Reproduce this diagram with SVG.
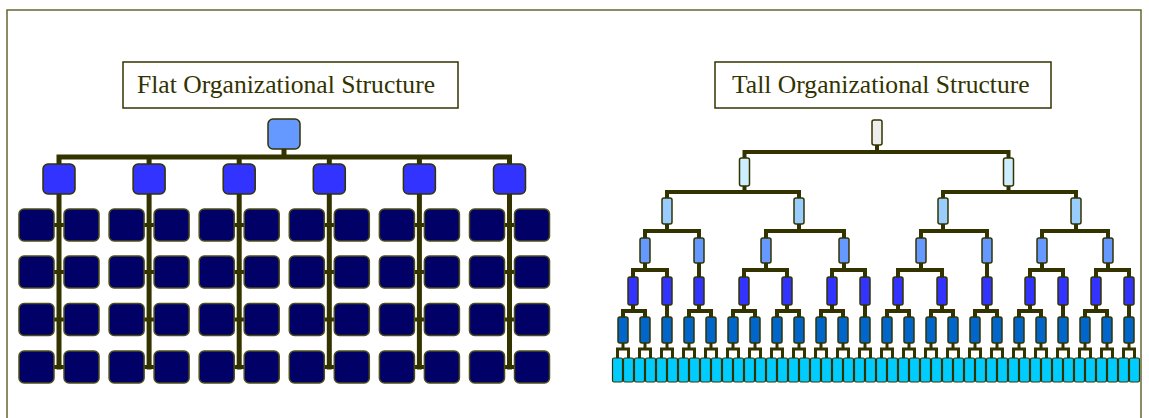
<svg xmlns="http://www.w3.org/2000/svg" width="1149" height="418" viewBox="0 0 1149 418">
  <style>
    .frame { fill: none; stroke: #666633; stroke-width: 1.5; }
    .title-box { fill: #ffffff; stroke: #333300; stroke-width: 1.5; }
    .title { font-family: "Liberation Serif", "Times New Roman", serif; font-size: 25.6px; fill: #333300; }
    .wire { fill: none; stroke: #333300; stroke-linecap: square; stroke-linejoin: miter; }
    .wire-f { stroke-width: 5; }
    .wire-f2 { stroke-width: 4; }
    .wire-t { stroke-width: 4; }
    .wire-leaf { stroke-width: 3; }
    .node { stroke: #333300; stroke-width: 1.5; }
    .f0 { fill: #6699ff; }
    .f1 { fill: #3333ff; }
    .fg { fill: #000066; stroke: #4d4d1a; }
    .t0 { fill: #eeeeee; }
    .t1 { fill: #cceeff; }
    .t2 { fill: #99ccff; }
    .t3 { fill: #6699ff; }
    .t4 { fill: #3333ff; }
    .t5 { fill: #0066cc; }
    .t6 { fill: #00ccff; stroke-width: 1.2; }
  </style>

  <!-- outer frame -->
  <rect class="frame" x="7" y="10" width="1134" height="420"/>

  <!-- titles -->
  <g id="title-flat">
    <rect class="title-box" x="123" y="62" width="335" height="46"/>
    <text class="title" x="137" y="93">Flat Organizational Structure</text>
  </g>
  <g id="title-tall">
    <rect class="title-box" x="715" y="62" width="336" height="46"/>
    <text class="title" x="732" y="93">Tall Organizational Structure</text>
  </g>

  <!-- ===== flat structure: connectors ===== -->
  <g id="flat-connectors" class="wire">
    <path class="wire-f" d="M284 149 V157 M59 164 V157 H509.5 V164 M149.1 157 V164 M239.2 157 V164 M329.3 157 V164 M419.4 157 V164"/>
    <path class="wire-f" d="M59 194 V367 M149.1 194 V367 M239.2 194 V367 M329.3 194 V367 M419.4 194 V367 M509.5 194 V367"/>
    <path class="wire-f2" d="M54 225 H64 M54 272 H64 M54 319.5 H64 M54 367 H64
      M144.1 225 H154.1 M144.1 272 H154.1 M144.1 319.5 H154.1 M144.1 367 H154.1
      M234.2 225 H244.2 M234.2 272 H244.2 M234.2 319.5 H244.2 M234.2 367 H244.2
      M324.3 225 H334.3 M324.3 272 H334.3 M324.3 319.5 H334.3 M324.3 367 H334.3
      M414.4 225 H424.4 M414.4 272 H424.4 M414.4 319.5 H424.4 M414.4 367 H424.4
      M504.5 225 H514.5 M504.5 272 H514.5 M504.5 319.5 H514.5 M504.5 367 H514.5"/>
  </g>

  <!-- ===== flat structure: nodes ===== -->
  <g id="flat-nodes">
    <g id="flat-top"><rect class="node f0" x="268" y="119" width="32" height="30" rx="5"/></g>
    <g id="flat-m1"><rect class="node f1" x="43" y="164" width="32" height="30" rx="5"/></g>
    <g id="flat-m2"><rect class="node f1" x="133.1" y="164" width="32" height="30" rx="5"/></g>
    <g id="flat-m3"><rect class="node f1" x="223.2" y="164" width="32" height="30" rx="5"/></g>
    <g id="flat-m4"><rect class="node f1" x="313.3" y="164" width="32" height="30" rx="5"/></g>
    <g id="flat-m5"><rect class="node f1" x="403.4" y="164" width="32" height="30" rx="5"/></g>
    <g id="flat-m6"><rect class="node f1" x="493.5" y="164" width="32" height="30" rx="5"/></g>

    <!-- staff grid: two columns per manager, four rows -->
    <g id="flat-s1-1"><rect class="node fg" x="19" y="209" width="35" height="32" rx="5"/></g>
    <g id="flat-s1-2"><rect class="node fg" x="64" y="209" width="35" height="32" rx="5"/></g>
    <g id="flat-s1-3"><rect class="node fg" x="19" y="256" width="35" height="32" rx="5"/></g>
    <g id="flat-s1-4"><rect class="node fg" x="64" y="256" width="35" height="32" rx="5"/></g>
    <g id="flat-s1-5"><rect class="node fg" x="19" y="303.5" width="35" height="32" rx="5"/></g>
    <g id="flat-s1-6"><rect class="node fg" x="64" y="303.5" width="35" height="32" rx="5"/></g>
    <g id="flat-s1-7"><rect class="node fg" x="19" y="351" width="35" height="32" rx="5"/></g>
    <g id="flat-s1-8"><rect class="node fg" x="64" y="351" width="35" height="32" rx="5"/></g>

    <g id="flat-s2-1"><rect class="node fg" x="109.1" y="209" width="35" height="32" rx="5"/></g>
    <g id="flat-s2-2"><rect class="node fg" x="154.1" y="209" width="35" height="32" rx="5"/></g>
    <g id="flat-s2-3"><rect class="node fg" x="109.1" y="256" width="35" height="32" rx="5"/></g>
    <g id="flat-s2-4"><rect class="node fg" x="154.1" y="256" width="35" height="32" rx="5"/></g>
    <g id="flat-s2-5"><rect class="node fg" x="109.1" y="303.5" width="35" height="32" rx="5"/></g>
    <g id="flat-s2-6"><rect class="node fg" x="154.1" y="303.5" width="35" height="32" rx="5"/></g>
    <g id="flat-s2-7"><rect class="node fg" x="109.1" y="351" width="35" height="32" rx="5"/></g>
    <g id="flat-s2-8"><rect class="node fg" x="154.1" y="351" width="35" height="32" rx="5"/></g>

    <g id="flat-s3-1"><rect class="node fg" x="199.2" y="209" width="35" height="32" rx="5"/></g>
    <g id="flat-s3-2"><rect class="node fg" x="244.2" y="209" width="35" height="32" rx="5"/></g>
    <g id="flat-s3-3"><rect class="node fg" x="199.2" y="256" width="35" height="32" rx="5"/></g>
    <g id="flat-s3-4"><rect class="node fg" x="244.2" y="256" width="35" height="32" rx="5"/></g>
    <g id="flat-s3-5"><rect class="node fg" x="199.2" y="303.5" width="35" height="32" rx="5"/></g>
    <g id="flat-s3-6"><rect class="node fg" x="244.2" y="303.5" width="35" height="32" rx="5"/></g>
    <g id="flat-s3-7"><rect class="node fg" x="199.2" y="351" width="35" height="32" rx="5"/></g>
    <g id="flat-s3-8"><rect class="node fg" x="244.2" y="351" width="35" height="32" rx="5"/></g>

    <g id="flat-s4-1"><rect class="node fg" x="289.3" y="209" width="35" height="32" rx="5"/></g>
    <g id="flat-s4-2"><rect class="node fg" x="334.3" y="209" width="35" height="32" rx="5"/></g>
    <g id="flat-s4-3"><rect class="node fg" x="289.3" y="256" width="35" height="32" rx="5"/></g>
    <g id="flat-s4-4"><rect class="node fg" x="334.3" y="256" width="35" height="32" rx="5"/></g>
    <g id="flat-s4-5"><rect class="node fg" x="289.3" y="303.5" width="35" height="32" rx="5"/></g>
    <g id="flat-s4-6"><rect class="node fg" x="334.3" y="303.5" width="35" height="32" rx="5"/></g>
    <g id="flat-s4-7"><rect class="node fg" x="289.3" y="351" width="35" height="32" rx="5"/></g>
    <g id="flat-s4-8"><rect class="node fg" x="334.3" y="351" width="35" height="32" rx="5"/></g>

    <g id="flat-s5-1"><rect class="node fg" x="379.4" y="209" width="35" height="32" rx="5"/></g>
    <g id="flat-s5-2"><rect class="node fg" x="424.4" y="209" width="35" height="32" rx="5"/></g>
    <g id="flat-s5-3"><rect class="node fg" x="379.4" y="256" width="35" height="32" rx="5"/></g>
    <g id="flat-s5-4"><rect class="node fg" x="424.4" y="256" width="35" height="32" rx="5"/></g>
    <g id="flat-s5-5"><rect class="node fg" x="379.4" y="303.5" width="35" height="32" rx="5"/></g>
    <g id="flat-s5-6"><rect class="node fg" x="424.4" y="303.5" width="35" height="32" rx="5"/></g>
    <g id="flat-s5-7"><rect class="node fg" x="379.4" y="351" width="35" height="32" rx="5"/></g>
    <g id="flat-s5-8"><rect class="node fg" x="424.4" y="351" width="35" height="32" rx="5"/></g>

    <g id="flat-s6-1"><rect class="node fg" x="469.5" y="209" width="35" height="32" rx="5"/></g>
    <g id="flat-s6-2"><rect class="node fg" x="514.5" y="209" width="35" height="32" rx="5"/></g>
    <g id="flat-s6-3"><rect class="node fg" x="469.5" y="256" width="35" height="32" rx="5"/></g>
    <g id="flat-s6-4"><rect class="node fg" x="514.5" y="256" width="35" height="32" rx="5"/></g>
    <g id="flat-s6-5"><rect class="node fg" x="469.5" y="303.5" width="35" height="32" rx="5"/></g>
    <g id="flat-s6-6"><rect class="node fg" x="514.5" y="303.5" width="35" height="32" rx="5"/></g>
    <g id="flat-s6-7"><rect class="node fg" x="469.5" y="351" width="35" height="32" rx="5"/></g>
    <g id="flat-s6-8"><rect class="node fg" x="514.5" y="351" width="35" height="32" rx="5"/></g>
  </g>

  <!-- ===== tall structure: connectors ===== -->
  <g id="tall-connectors" class="wire">
    <path class="wire-t" d="
      M877 145 V152 M744.5 158 V152 H1008.5 V158
      M744.5 186 V192 M667 198 V192 H799 V198
      M1008.5 186 V192 M943 198 V192 H1076 V198
      M667 224 V231 M645 238 V231 H699 V238
      M799 224 V231 M766 238 V231 H844 V238
      M943 224 V231 M921 238 V231 H987 V238
      M1076 224 V231 M1042 238 V231 H1108 V238
      M645 263 V270 M633 277 V270 H667 V277
      M699 263 V277
      M766 263 V270 M744 277 V270 H787 V277
      M844 263 V270 M832 277 V270 H865 V277
      M921 263 V270 M898 277 V270 H942 V277
      M987 263 V277
      M1042 263 V270 M1030 277 V270 H1063 V277
      M1108 263 V270 M1096 277 V270 H1129 V277
      M633 305 V311 M623 317 V311 H645 V317
      M667 305 V317
      M699 305 V311 M689 317 V311 H711 V317
      M744 305 V311 M733 317 V311 H755 V317
      M787 305 V311 M777 317 V311 H799 V317
      M832 305 V311 M821 317 V311 H843 V317
      M865 305 V317
      M898 305 V311 M887 317 V311 H909 V317
      M942 305 V311 M931 317 V311 H953 V317
      M987 305 V311 M975 317 V311 H997 V317
      M1030 305 V311 M1019 317 V311 H1041 V317
      M1063 305 V317
      M1096 305 V311 M1085 317 V311 H1107 V317
      M1129 305 V317"/>
    <path class="wire-leaf" d="
      M623 343 V349 M617.5 358 V349 H628.5 V358
      M645 343 V349 M639.5 358 V349 H650.5 V358
      M667 343 V349 M661.5 358 V349 H672.5 V358
      M689 343 V349 M683.5 358 V349 H694.5 V358
      M711 343 V349 M705.5 358 V349 H716.5 V358
      M733 343 V349 M727.5 358 V349 H738.5 V358
      M755 343 V349 M749.5 358 V349 H760.5 V358
      M777 343 V349 M771.5 358 V349 H782.5 V358
      M799 343 V349 M793.5 358 V349 H804.5 V358
      M821 343 V349 M815.5 358 V349 H826.5 V358
      M843 343 V349 M837.5 358 V349 H848.5 V358
      M865 343 V349 M859.5 358 V349 H870.5 V358
      M887 343 V349 M881.5 358 V349 H892.5 V358
      M909 343 V349 M903.5 358 V349 H914.5 V358
      M931 343 V349 M925.5 358 V349 H936.5 V358
      M953 343 V349 M947.5 358 V349 H958.5 V358
      M975 343 V349 M969.5 358 V349 H980.5 V358
      M997 343 V349 M991.5 358 V349 H1002.5 V358
      M1019 343 V349 M1013.5 358 V349 H1024.5 V358
      M1041 343 V349 M1035.5 358 V349 H1046.5 V358
      M1063 343 V349 M1057.5 358 V349 H1068.5 V358
      M1085 343 V349 M1079.5 358 V349 H1090.5 V358
      M1107 343 V349 M1101.5 358 V349 H1112.5 V358
      M1129 343 V349 M1123.5 358 V349 H1134.5 V358"/>
  </g>

  <!-- ===== tall structure: nodes ===== -->
  <g id="tall-nodes">
    <g id="tall-top"><rect class="node t0" x="872" y="120" width="10" height="25" rx="2"/></g>

    <g id="tall-l1-1"><rect class="node t1" x="739.5" y="158" width="10" height="28" rx="2"/></g>
    <g id="tall-l1-2"><rect class="node t1" x="1003.5" y="158" width="10" height="28" rx="2"/></g>

    <g id="tall-l2-1"><rect class="node t2" x="662" y="198" width="10" height="26" rx="2"/></g>
    <g id="tall-l2-2"><rect class="node t2" x="794" y="198" width="10" height="26" rx="2"/></g>
    <g id="tall-l2-3"><rect class="node t2" x="938" y="198" width="10" height="26" rx="2"/></g>
    <g id="tall-l2-4"><rect class="node t2" x="1071" y="198" width="10" height="26" rx="2"/></g>

    <g id="tall-l3-1"><rect class="node t3" x="640" y="238" width="10" height="25" rx="2"/></g>
    <g id="tall-l3-2"><rect class="node t3" x="694" y="238" width="10" height="25" rx="2"/></g>
    <g id="tall-l3-3"><rect class="node t3" x="761" y="238" width="10" height="25" rx="2"/></g>
    <g id="tall-l3-4"><rect class="node t3" x="839" y="238" width="10" height="25" rx="2"/></g>
    <g id="tall-l3-5"><rect class="node t3" x="916" y="238" width="10" height="25" rx="2"/></g>
    <g id="tall-l3-6"><rect class="node t3" x="982" y="238" width="10" height="25" rx="2"/></g>
    <g id="tall-l3-7"><rect class="node t3" x="1037" y="238" width="10" height="25" rx="2"/></g>
    <g id="tall-l3-8"><rect class="node t3" x="1103" y="238" width="10" height="25" rx="2"/></g>

    <g id="tall-l4-1"><rect class="node t4" x="628" y="277" width="10" height="28" rx="2"/></g>
    <g id="tall-l4-2"><rect class="node t4" x="662" y="277" width="10" height="28" rx="2"/></g>
    <g id="tall-l4-3"><rect class="node t4" x="694" y="277" width="10" height="28" rx="2"/></g>
    <g id="tall-l4-4"><rect class="node t4" x="739" y="277" width="10" height="28" rx="2"/></g>
    <g id="tall-l4-5"><rect class="node t4" x="782" y="277" width="10" height="28" rx="2"/></g>
    <g id="tall-l4-6"><rect class="node t4" x="827" y="277" width="10" height="28" rx="2"/></g>
    <g id="tall-l4-7"><rect class="node t4" x="860" y="277" width="10" height="28" rx="2"/></g>
    <g id="tall-l4-8"><rect class="node t4" x="893" y="277" width="10" height="28" rx="2"/></g>
    <g id="tall-l4-9"><rect class="node t4" x="937" y="277" width="10" height="28" rx="2"/></g>
    <g id="tall-l4-10"><rect class="node t4" x="982" y="277" width="10" height="28" rx="2"/></g>
    <g id="tall-l4-11"><rect class="node t4" x="1025" y="277" width="10" height="28" rx="2"/></g>
    <g id="tall-l4-12"><rect class="node t4" x="1058" y="277" width="10" height="28" rx="2"/></g>
    <g id="tall-l4-13"><rect class="node t4" x="1091" y="277" width="10" height="28" rx="2"/></g>
    <g id="tall-l4-14"><rect class="node t4" x="1124" y="277" width="10" height="28" rx="2"/></g>

    <g id="tall-l5-1"><rect class="node t5" x="618" y="317" width="10" height="26" rx="2"/></g>
    <g id="tall-l5-2"><rect class="node t5" x="640" y="317" width="10" height="26" rx="2"/></g>
    <g id="tall-l5-3"><rect class="node t5" x="662" y="317" width="10" height="26" rx="2"/></g>
    <g id="tall-l5-4"><rect class="node t5" x="684" y="317" width="10" height="26" rx="2"/></g>
    <g id="tall-l5-5"><rect class="node t5" x="706" y="317" width="10" height="26" rx="2"/></g>
    <g id="tall-l5-6"><rect class="node t5" x="728" y="317" width="10" height="26" rx="2"/></g>
    <g id="tall-l5-7"><rect class="node t5" x="750" y="317" width="10" height="26" rx="2"/></g>
    <g id="tall-l5-8"><rect class="node t5" x="772" y="317" width="10" height="26" rx="2"/></g>
    <g id="tall-l5-9"><rect class="node t5" x="794" y="317" width="10" height="26" rx="2"/></g>
    <g id="tall-l5-10"><rect class="node t5" x="816" y="317" width="10" height="26" rx="2"/></g>
    <g id="tall-l5-11"><rect class="node t5" x="838" y="317" width="10" height="26" rx="2"/></g>
    <g id="tall-l5-12"><rect class="node t5" x="860" y="317" width="10" height="26" rx="2"/></g>
    <g id="tall-l5-13"><rect class="node t5" x="882" y="317" width="10" height="26" rx="2"/></g>
    <g id="tall-l5-14"><rect class="node t5" x="904" y="317" width="10" height="26" rx="2"/></g>
    <g id="tall-l5-15"><rect class="node t5" x="926" y="317" width="10" height="26" rx="2"/></g>
    <g id="tall-l5-16"><rect class="node t5" x="948" y="317" width="10" height="26" rx="2"/></g>
    <g id="tall-l5-17"><rect class="node t5" x="970" y="317" width="10" height="26" rx="2"/></g>
    <g id="tall-l5-18"><rect class="node t5" x="992" y="317" width="10" height="26" rx="2"/></g>
    <g id="tall-l5-19"><rect class="node t5" x="1014" y="317" width="10" height="26" rx="2"/></g>
    <g id="tall-l5-20"><rect class="node t5" x="1036" y="317" width="10" height="26" rx="2"/></g>
    <g id="tall-l5-21"><rect class="node t5" x="1058" y="317" width="10" height="26" rx="2"/></g>
    <g id="tall-l5-22"><rect class="node t5" x="1080" y="317" width="10" height="26" rx="2"/></g>
    <g id="tall-l5-23"><rect class="node t5" x="1102" y="317" width="10" height="26" rx="2"/></g>
    <g id="tall-l5-24"><rect class="node t5" x="1124" y="317" width="10" height="26" rx="2"/></g>

    <!-- bottom level: 48 staff boxes, 11px pitch -->
    <g id="tall-l6-1"><rect class="node t6" x="612.5" y="358" width="10" height="24" rx="1.5"/></g>
    <g id="tall-l6-2"><rect class="node t6" x="623.5" y="358" width="10" height="24" rx="1.5"/></g>
    <g id="tall-l6-3"><rect class="node t6" x="634.5" y="358" width="10" height="24" rx="1.5"/></g>
    <g id="tall-l6-4"><rect class="node t6" x="645.5" y="358" width="10" height="24" rx="1.5"/></g>
    <g id="tall-l6-5"><rect class="node t6" x="656.5" y="358" width="10" height="24" rx="1.5"/></g>
    <g id="tall-l6-6"><rect class="node t6" x="667.5" y="358" width="10" height="24" rx="1.5"/></g>
    <g id="tall-l6-7"><rect class="node t6" x="678.5" y="358" width="10" height="24" rx="1.5"/></g>
    <g id="tall-l6-8"><rect class="node t6" x="689.5" y="358" width="10" height="24" rx="1.5"/></g>
    <g id="tall-l6-9"><rect class="node t6" x="700.5" y="358" width="10" height="24" rx="1.5"/></g>
    <g id="tall-l6-10"><rect class="node t6" x="711.5" y="358" width="10" height="24" rx="1.5"/></g>
    <g id="tall-l6-11"><rect class="node t6" x="722.5" y="358" width="10" height="24" rx="1.5"/></g>
    <g id="tall-l6-12"><rect class="node t6" x="733.5" y="358" width="10" height="24" rx="1.5"/></g>
    <g id="tall-l6-13"><rect class="node t6" x="744.5" y="358" width="10" height="24" rx="1.5"/></g>
    <g id="tall-l6-14"><rect class="node t6" x="755.5" y="358" width="10" height="24" rx="1.5"/></g>
    <g id="tall-l6-15"><rect class="node t6" x="766.5" y="358" width="10" height="24" rx="1.5"/></g>
    <g id="tall-l6-16"><rect class="node t6" x="777.5" y="358" width="10" height="24" rx="1.5"/></g>
    <g id="tall-l6-17"><rect class="node t6" x="788.5" y="358" width="10" height="24" rx="1.5"/></g>
    <g id="tall-l6-18"><rect class="node t6" x="799.5" y="358" width="10" height="24" rx="1.5"/></g>
    <g id="tall-l6-19"><rect class="node t6" x="810.5" y="358" width="10" height="24" rx="1.5"/></g>
    <g id="tall-l6-20"><rect class="node t6" x="821.5" y="358" width="10" height="24" rx="1.5"/></g>
    <g id="tall-l6-21"><rect class="node t6" x="832.5" y="358" width="10" height="24" rx="1.5"/></g>
    <g id="tall-l6-22"><rect class="node t6" x="843.5" y="358" width="10" height="24" rx="1.5"/></g>
    <g id="tall-l6-23"><rect class="node t6" x="854.5" y="358" width="10" height="24" rx="1.5"/></g>
    <g id="tall-l6-24"><rect class="node t6" x="865.5" y="358" width="10" height="24" rx="1.5"/></g>
    <g id="tall-l6-25"><rect class="node t6" x="876.5" y="358" width="10" height="24" rx="1.5"/></g>
    <g id="tall-l6-26"><rect class="node t6" x="887.5" y="358" width="10" height="24" rx="1.5"/></g>
    <g id="tall-l6-27"><rect class="node t6" x="898.5" y="358" width="10" height="24" rx="1.5"/></g>
    <g id="tall-l6-28"><rect class="node t6" x="909.5" y="358" width="10" height="24" rx="1.5"/></g>
    <g id="tall-l6-29"><rect class="node t6" x="920.5" y="358" width="10" height="24" rx="1.5"/></g>
    <g id="tall-l6-30"><rect class="node t6" x="931.5" y="358" width="10" height="24" rx="1.5"/></g>
    <g id="tall-l6-31"><rect class="node t6" x="942.5" y="358" width="10" height="24" rx="1.5"/></g>
    <g id="tall-l6-32"><rect class="node t6" x="953.5" y="358" width="10" height="24" rx="1.5"/></g>
    <g id="tall-l6-33"><rect class="node t6" x="964.5" y="358" width="10" height="24" rx="1.5"/></g>
    <g id="tall-l6-34"><rect class="node t6" x="975.5" y="358" width="10" height="24" rx="1.5"/></g>
    <g id="tall-l6-35"><rect class="node t6" x="986.5" y="358" width="10" height="24" rx="1.5"/></g>
    <g id="tall-l6-36"><rect class="node t6" x="997.5" y="358" width="10" height="24" rx="1.5"/></g>
    <g id="tall-l6-37"><rect class="node t6" x="1008.5" y="358" width="10" height="24" rx="1.5"/></g>
    <g id="tall-l6-38"><rect class="node t6" x="1019.5" y="358" width="10" height="24" rx="1.5"/></g>
    <g id="tall-l6-39"><rect class="node t6" x="1030.5" y="358" width="10" height="24" rx="1.5"/></g>
    <g id="tall-l6-40"><rect class="node t6" x="1041.5" y="358" width="10" height="24" rx="1.5"/></g>
    <g id="tall-l6-41"><rect class="node t6" x="1052.5" y="358" width="10" height="24" rx="1.5"/></g>
    <g id="tall-l6-42"><rect class="node t6" x="1063.5" y="358" width="10" height="24" rx="1.5"/></g>
    <g id="tall-l6-43"><rect class="node t6" x="1074.5" y="358" width="10" height="24" rx="1.5"/></g>
    <g id="tall-l6-44"><rect class="node t6" x="1085.5" y="358" width="10" height="24" rx="1.5"/></g>
    <g id="tall-l6-45"><rect class="node t6" x="1096.5" y="358" width="10" height="24" rx="1.5"/></g>
    <g id="tall-l6-46"><rect class="node t6" x="1107.5" y="358" width="10" height="24" rx="1.5"/></g>
    <g id="tall-l6-47"><rect class="node t6" x="1118.5" y="358" width="10" height="24" rx="1.5"/></g>
    <g id="tall-l6-48"><rect class="node t6" x="1129.5" y="358" width="10" height="24" rx="1.5"/></g>
  </g>
</svg>
